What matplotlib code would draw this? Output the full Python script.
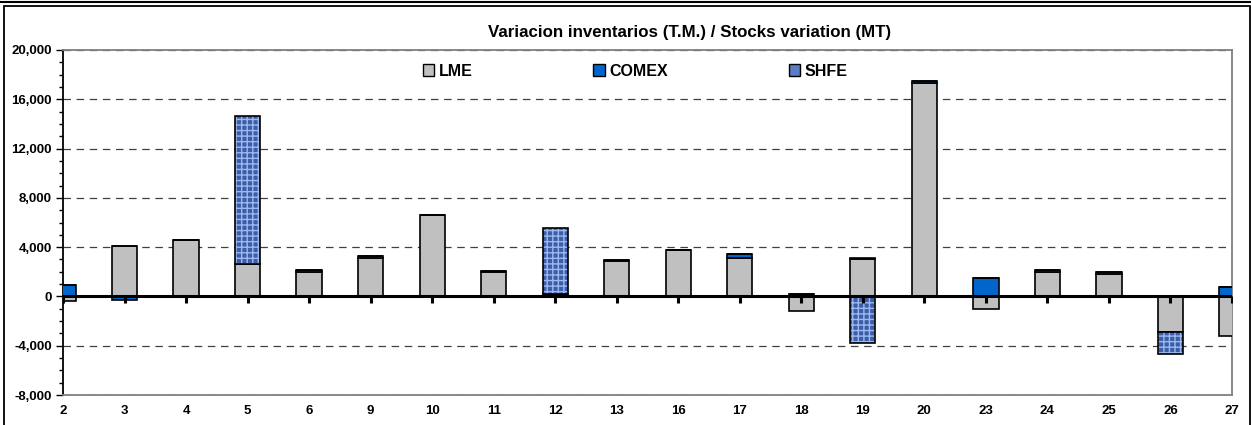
import numpy as np
import matplotlib.pyplot as plt
from matplotlib.patches import Rectangle
from matplotlib.lines import Line2D
from matplotlib.ticker import MultipleLocator, FuncFormatter
from matplotlib import markers

plt.rcParams['font.family'] = ['Liberation Sans', 'DejaVu Sans']

# data (MT)
days = ['2', '3', '4', '5', '6', '9', '10', '11', '12', '13',
        '16', '17', '18', '19', '20', '23', '24', '25', '26', '27']
lme = [-400, 4100, 4600, 2620, 2000, 3100, 6600, 2000, 200, 2900,
       3750, 3100, -1150, 3000, 17300, -1000, 1950, 1850, -2900, -3250]
comex = [900, -300, 0, 0, 150, 200, 0, 80, 0, 50,
         0, 350, 200, 150, 150, 1500, 170, 150, 0, 800]
shfe = [0, 0, 0, 12000, 0, 0, 0, 0, 5350, 0,
        0, 0, 0, -3800, 0, 0, 0, 0, -1800, 0]

GRAY = '#c0c0c0'
BLUE = '#0066cc'
SHFE_FACE = '#3c5ea8'
SHFE_HATCH = '#9db8ef'

W, H = 1251, 425
fig = plt.figure(figsize=(W / 100, H / 100), dpi=100)
ax = fig.add_axes([63 / W, 1 - 395 / H, (1232 - 63) / W, (395 - 50) / H])

x = np.arange(len(days))
bw = 0.41
pos = np.zeros(len(days))
neg = np.zeros(len(days))


def stack(vals):
    vals = np.array(vals, dtype=float)
    bottom = np.where(vals >= 0, pos, neg)
    pos[:] += np.where(vals >= 0, vals, 0)
    neg[:] += np.where(vals < 0, vals, 0)
    return vals, bottom


v, b = stack(lme)
ax.bar(x, v, bw, bottom=b, color=GRAY, edgecolor='black', linewidth=1.2, zorder=3)
v, b = stack(comex)
ax.bar(x, v, bw, bottom=b, color=BLUE, edgecolor='black', linewidth=1.2, zorder=3)
v, b = stack(shfe)
ax.bar(x, v, bw, bottom=b, color=SHFE_FACE, edgecolor=SHFE_HATCH, linewidth=0,
       hatch='+++', zorder=3)
ax.bar(x, v, bw, bottom=b, fill=False, edgecolor='black', linewidth=1.2, zorder=4)

# zero line with category ticks
ax.axhline(0, color='black', linewidth=2.2, zorder=5)
ax.plot(x, np.zeros(len(x)), linestyle='none', marker=markers.TICKDOWN,
        markersize=5, markeredgewidth=2.2, color='black', zorder=5)

ax.set_xlim(0, len(days) - 1)
ax.set_ylim(-8000, 20000)
ax.yaxis.set_major_locator(MultipleLocator(4000))
ax.yaxis.set_minor_locator(MultipleLocator(1000))
ax.yaxis.set_major_formatter(FuncFormatter(lambda v, p: f'{v:,.0f}'))
ax.tick_params(axis='y', which='major', length=5, width=1, direction='out',
               labelsize=9.5, pad=3)
ax.tick_params(axis='y', which='minor', length=3, width=1, direction='out')
for lab in ax.get_yticklabels():
    lab.set_fontweight('bold')

ax.set_xticks(x)
ax.set_xticklabels(days, fontweight='bold')
ax.tick_params(axis='x', length=0, labelsize=9.5, pad=7)

ax.grid(axis='y', color='#404040', linestyle=(0, (6, 4.5)), linewidth=0.9, zorder=1)
ax.set_axisbelow(True)

ax.spines['left'].set_color('black')
ax.spines['left'].set_linewidth(1.3)
for s in ['top', 'right', 'bottom']:
    ax.spines[s].set_color('#808080')
    ax.spines[s].set_linewidth(1.3)

fig.text(690 / W, 1 - 33 / H, 'Variacion inventarios (T.M.) / Stocks variation (MT)',
         ha='center', va='center', fontsize=12.2, fontweight='bold')

handles = [Rectangle((0, 0), 1, 1, facecolor=GRAY, edgecolor='black', linewidth=1),
           Rectangle((0, 0), 1, 1, facecolor=BLUE, edgecolor='black', linewidth=1),
           Rectangle((0, 0), 1, 1, facecolor='#5b7dc4', edgecolor='black', linewidth=1)]
leg = fig.legend(handles, ['LME', 'COMEX', 'SHFE'], ncol=3, frameon=False,
                 loc='center left', bbox_to_anchor=(423 / W, 1 - 71 / H),
                 borderpad=0, borderaxespad=0, handlelength=0.7, handleheight=0.7,
                 handletextpad=0.3, columnspacing=7.55,
                 prop={'size': 11.5, 'weight': 'bold'})

# chart frame
fig.patches.append(Rectangle((4 / W, -0.02), 1246 / W, 1 - 6 / H + 0.02,
                             transform=fig.transFigure, fill=False,
                             edgecolor='black', linewidth=1.3))
fig.lines.append(Line2D([0, 1], [1 - 1.5 / H, 1 - 1.5 / H], transform=fig.transFigure,
                        color='black', linewidth=1.5))

fig.savefig('out.png', dpi=100)
